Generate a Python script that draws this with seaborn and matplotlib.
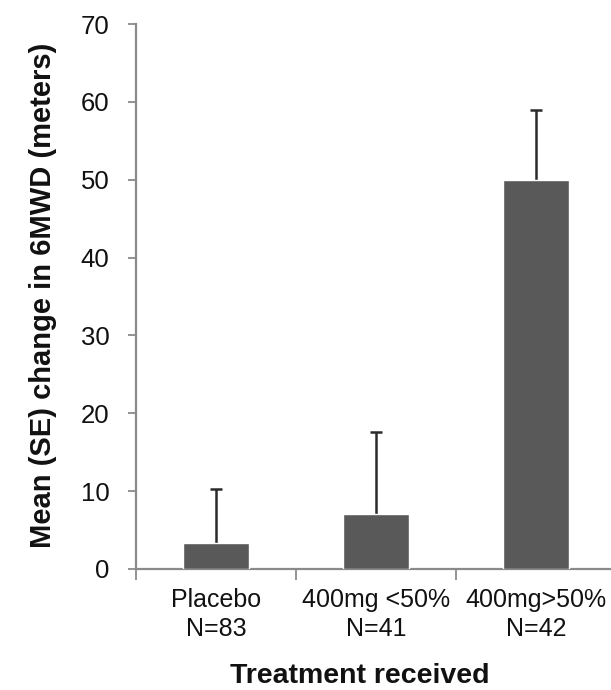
#!/usr/bin/env python3

import numpy as np
import pandas
import seaborn as sns
import matplotlib.pyplot as plt

# values
groups = ["Placebo\nN=83", "400mg <50%\nN=41", "400mg>50%\nN=42"]
mean_change = [3.3, 7.1, 50.0]
se_change = [7.0, 10.5, 9.0]
yticks = [0, 10, 20, 30, 40, 50, 60, 70]


def main():
    df = pandas.DataFrame({"group": groups, "change": mean_change, "se": se_change})

    sns.set_theme(style="white", rc={"text.color": "#111111",
                                     "xtick.color": "#111111",
                                     "ytick.color": "#111111",
                                     "axes.labelcolor": "#111111"})
    plt.rcParams["font.family"] = ["Liberation Sans", "DejaVu Sans"]

    fig = plt.figure(figsize=(6.11, 6.90), dpi=100)
    ax = fig.add_axes([0.2226, 0.1754, 0.7774, 0.7898])

    sns.barplot(
        data=df, x="group", y="change", color="#595959", saturation=1,
        width=0.41, errorbar=None, ax=ax, zorder=3,
    )
    # upper error bars only, line starts at the bar top
    xs = np.arange(len(groups))
    tops = df.change + df.se
    ax.vlines(xs, df.change, tops, color="#2a2a2a", linewidth=1.8, zorder=2)
    ax.plot(xs, tops, linestyle="none", marker="_", markersize=8,
            markeredgewidth=1.8, color="#2a2a2a", zorder=2)

    ax.set_ylim(0, 70)
    ax.set_xlim(-0.5, 2.47)
    ax.set_yticks(yticks)
    ax.set_yticklabels([str(t) for t in yticks], fontsize=18.5)

    # category labels centred, tick marks on the boundaries
    ax.tick_params(axis="x", which="major", length=0, pad=14, labelsize=18)
    ax.set_xticks(np.arange(-0.5, 2.0, 1.0), minor=True)
    ax.tick_params(axis="x", which="minor", length=8, width=1.3, color="#8a8a8a",
                   direction="out", bottom=True)
    ax.tick_params(axis="y", length=6, width=1.3, color="#8a8a8a",
                   direction="out", left=True, pad=13)
    for lab in ax.get_xticklabels():
        lab.set_linespacing(1.25)

    for side in ["top", "right"]:
        ax.spines[side].set_visible(False)
    for side in ["left", "bottom"]:
        ax.spines[side].set_color("#8a8a8a")
        ax.spines[side].set_linewidth(1.6)

    ax.set_xlabel("Treatment received", fontsize=20.5, fontweight="bold")
    ax.set_ylabel("Mean (SE) change in 6MWD (meters)", fontsize=21,
                  fontweight="bold")
    ax.xaxis.set_label_coords(0.472, -0.172)
    ax.yaxis.set_label_coords(-0.166, 0.503)

    fig.savefig("out.png", dpi=100)


if __name__ == "__main__":
    main()
